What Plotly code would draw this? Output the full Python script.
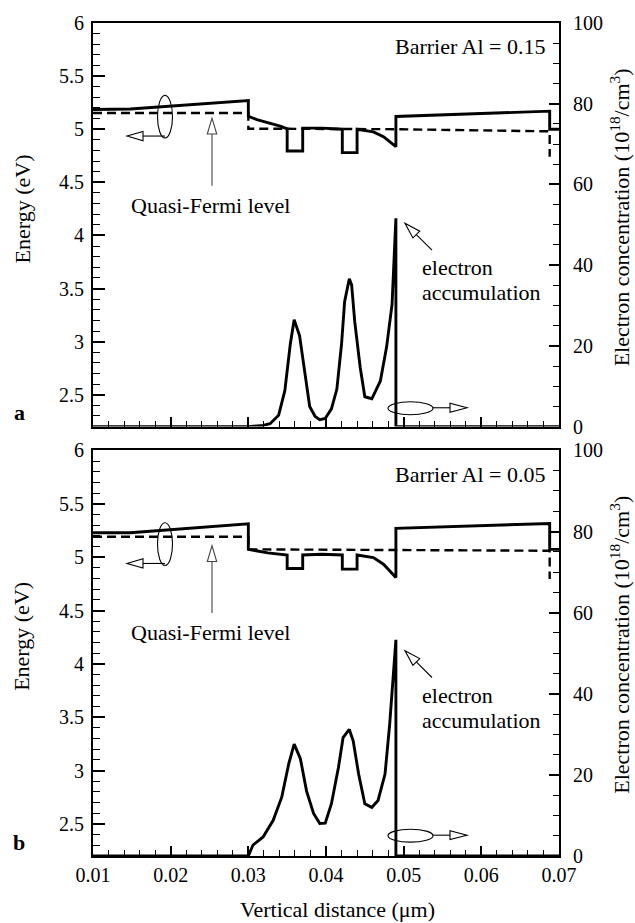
import plotly.graph_objects as go

# ---------------- data ----------------
x_ticks = [0.01, 0.02, 0.03, 0.04, 0.05, 0.06, 0.07]

# panel a (Barrier Al = 0.15)
band_a_x = [0.0100, 0.0148, 0.0300, 0.0300, 0.0311, 0.0324, 0.0341, 0.0350, 0.0350, 0.0370, 0.0370,
            0.0395, 0.0421, 0.0421, 0.0440, 0.0440, 0.0461, 0.0474, 0.0482, 0.0490, 0.0490, 0.0688,
            0.0688, 0.0700]
band_a_y = [5.185, 5.190, 5.270, 5.122, 5.090, 5.066, 5.030, 5.004, 4.795, 4.795, 5.010,
            5.010, 5.000, 4.780, 4.780, 5.000, 4.975, 4.930, 4.880, 4.836, 5.120, 5.170,
            5.000, 5.000]
fermi_a_x = [0.0100, 0.0300, 0.0300, 0.0490, 0.0688, 0.0688]
fermi_a_y = [5.153, 5.153, 5.005, 5.000, 4.980, 4.740]
conc_a_x = [0.0100, 0.0300, 0.0319, 0.0328, 0.0339, 0.0347, 0.0354, 0.0359, 0.0366, 0.0373, 0.0379,
            0.0386, 0.0392, 0.0399, 0.0407, 0.0414, 0.0420, 0.0424, 0.0430, 0.0433, 0.0437, 0.0444,
            0.0450, 0.0459, 0.0470, 0.0478, 0.0485, 0.0490, 0.0490, 0.0700]
conc_a_y = [0.0, 0.0, 0.3, 0.7, 2.8, 8.9, 20.4, 26.5, 22.5, 13.0, 5.0,
            2.5, 1.7, 2.0, 4.4, 9.3, 20.4, 31.0, 36.6, 35.1, 26.0, 14.7,
            7.4, 6.9, 11.3, 19.7, 30.2, 51.6, 0.0, 0.0]

# panel b (Barrier Al = 0.05)
band_b_x = [0.0100, 0.0148, 0.0300, 0.0300, 0.0310, 0.0325, 0.0350, 0.0350, 0.0370, 0.0370,
            0.0395, 0.0421, 0.0421, 0.0440, 0.0440, 0.0461, 0.0474, 0.0482, 0.0490, 0.0490,
            0.0688, 0.0688, 0.0700]
band_b_y = [5.229, 5.229, 5.312, 5.073, 5.060, 5.040, 5.020, 4.894, 4.894, 5.020,
            5.027, 5.020, 4.888, 4.888, 5.020, 4.996, 4.934, 4.873, 4.810, 5.270,
            5.315, 5.073, 5.073]
fermi_b_x = [0.0100, 0.0300, 0.0300, 0.0688, 0.0688]
fermi_b_y = [5.191, 5.191, 5.073, 5.060, 4.795]
conc_b_x = [0.0100, 0.0300, 0.0306, 0.0319, 0.0332, 0.0343, 0.0352, 0.0359, 0.0367, 0.0375, 0.0384,
            0.0392, 0.0399, 0.0407, 0.0416, 0.0422, 0.0430, 0.0435, 0.0442, 0.0450, 0.0459,
            0.0467, 0.0476, 0.0482, 0.0490, 0.0490, 0.0700]
conc_b_y = [0.0, 0.0, 2.7, 4.7, 8.8, 14.5, 22.7, 27.6, 24.0, 16.0, 10.5,
            8.0, 8.1, 12.9, 21.8, 29.2, 31.2, 28.4, 20.2, 12.9, 12.0,
            13.7, 20.2, 32.5, 53.3, 0.0, 0.0]

panel_labels = ["a", "b"]
barrier_labels = ["Barrier Al = 0.15", "Barrier Al = 0.05"]

# ---------------- layout geometry ----------------
W, H = 635, 923
L, R, T, B = 93, 76, 16, 67
PW, PH = W - L - R, H - T - B
FONT = "Liberation Serif, Times New Roman, serif"


def px(x):
    return (x - L) / PW


def py(y):
    return (H - B - y) / PH


top_dom = [py(423), 1.0]
bot_dom = [0.0, py(447)]
offsets = [0, 431]  # vertical pixel offset of each panel's decorations

fig = go.Figure()

solid = dict(color="black", width=2.9)
dashed = dict(color="black", width=2.4, dash="9px,5px")
conc_line = dict(color="black", width=2.9)

fig.add_trace(go.Scatter(x=band_a_x, y=band_a_y, mode="lines", line=solid, xaxis="x", yaxis="y"))
fig.add_trace(go.Scatter(x=fermi_a_x, y=fermi_a_y, mode="lines", line=dashed, xaxis="x", yaxis="y"))
fig.add_trace(go.Scatter(x=conc_a_x, y=conc_a_y, mode="lines", line=conc_line, xaxis="x", yaxis="y2"))
fig.add_trace(go.Scatter(x=band_b_x, y=band_b_y, mode="lines", line=solid, xaxis="x2", yaxis="y3"))
fig.add_trace(go.Scatter(x=fermi_b_x, y=fermi_b_y, mode="lines", line=dashed, xaxis="x2", yaxis="y3"))
fig.add_trace(go.Scatter(x=conc_b_x, y=conc_b_y, mode="lines", line=conc_line, xaxis="x2", yaxis="y4"))

tickfont = dict(family=FONT, size=20, color="black")
xcommon = dict(range=[0.01, 0.07], tickvals=x_ticks, tickformat=".2f", ticks="inside", ticklen=10,
               tickwidth=1.6, tickcolor="black", showline=True, linecolor="black", linewidth=2.2,
               mirror=True, showgrid=False, zeroline=False, tickfont=tickfont,
               minor=dict(dtick=0.002, tick0=0.01, ticks="inside", ticklen=6, tickwidth=1.3,
                          tickcolor="black", showgrid=False))
yleft = dict(range=[2.2, 6.0], dtick=0.5, tick0=0, ticks="inside", ticklen=12, tickwidth=1.6,
             tickcolor="black", showline=True, linecolor="black", linewidth=2.2, showgrid=False,
             zeroline=False, tickfont=tickfont, ticklabelstandoff=3,
             minor=dict(dtick=0.1, tick0=0, ticks="inside", ticklen=7, tickwidth=1.3,
                        tickcolor="black", showgrid=False))
yright = dict(range=[0, 100], dtick=20, tick0=0, side="right", ticks="inside", ticklen=10,
              tickwidth=1.6, tickcolor="black", showline=True, linecolor="black", linewidth=2.2,
              showgrid=False, zeroline=False, tickfont=tickfont, ticklabelstandoff=8,
              minor=dict(dtick=5, tick0=0, ticks="inside", ticklen=6, tickwidth=1.3,
                         tickcolor="black", showgrid=False))

fig.update_layout(
    width=W, height=H, margin=dict(l=L, r=R, t=T, b=B), showlegend=False,
    paper_bgcolor="white", plot_bgcolor="white",
    xaxis=dict(**xcommon, domain=[0, 1], anchor="y", showticklabels=False),
    yaxis=dict(**yleft, domain=top_dom, anchor="x"),
    yaxis2=dict(**yright, overlaying="y", anchor="x"),
    xaxis2=dict(**xcommon, domain=[0, 1], anchor="y3"),
    yaxis3=dict(**yleft, domain=bot_dom, anchor="x2"),
    yaxis4=dict(**yright, overlaying="y3", anchor="x2"),
)

annotations = []
shapes = []


def text(s, x, y, xanchor="center", size=22, angle=0, bold=False):
    if bold:
        s = "<b>" + s + "</b>"
    annotations.append(dict(text=s, x=px(x), y=py(y), xref="paper", yref="paper",
                            xanchor=xanchor, yanchor="middle", showarrow=False, textangle=angle,
                            font=dict(family=FONT, size=size, color="black")))


def arrow(x0, y0, x1, y1, head=16, half=4.8, width=1.1, color="black"):
    dx, dy = x1 - x0, y1 - y0
    n = (dx * dx + dy * dy) ** 0.5
    ux, uy = dx / n, dy / n
    bx, by = x1 - head * ux, y1 - head * uy
    nx, ny = -uy, ux
    shapes.append(dict(type="line", xref="paper", yref="paper", x0=px(x0), y0=py(y0),
                       x1=px(bx), y1=py(by), line=dict(color=color, width=width)))
    c1 = (bx + half * nx, by + half * ny)
    c2 = (bx - half * nx, by - half * ny)
    path = "M {:.5f},{:.5f} L {:.5f},{:.5f} L {:.5f},{:.5f} Z".format(
        px(x1), py(y1), px(c1[0]), py(c1[1]), px(c2[0]), py(c2[1]))
    shapes.append(dict(type="path", xref="paper", yref="paper", path=path,
                       fillcolor="white", line=dict(color=color, width=width)))


def ellipse(x0, y0, x1, y1):
    shapes.append(dict(type="circle", xref="paper", yref="paper", x0=px(x0), x1=px(x1),
                       y0=py(y1), y1=py(y0), line=dict(color="black", width=1.1)))


for i, off in enumerate(offsets):
    text(barrier_labels[i], 548, 40 + off, xanchor="right")
    text("Quasi-Fermi level", 129, 200 + off, xanchor="left")
    text("electron", 420, 263 + off, xanchor="left")
    text("accumulation", 420, 288 + off, xanchor="left")
    text(panel_labels[i], 19, 409 + off + (2 if i else 0), size=22, bold=True)
    # left ellipse + arrow pointing to energy axis
    ellipse(157.5, 89 + off, 172.5, 132 + off)
    arrow(165, 130 + off, 127, 130 + off, head=16, half=4.7)
    # Quasi-Fermi arrow
    arrow(212, 180 + off, 212, 112 + off, head=16, half=4.7, color="#444")
    # electron accumulation arrow
    arrow(432, 245 + off, 405, 218 + off, head=16, half=4.8)
    # right ellipse + arrow pointing to concentration axis
    ellipse(388, 398 + off, 433, 411 + off)
    arrow(433, 404 + off, 467, 404 + off, head=17, half=4.5)

# axis titles
text("Energy (eV)", 22, 204, angle=-90)
text("Energy (eV)", 22, 635, angle=-90)
text("Electron concentration (10<sup>18</sup>/cm<sup>3</sup>)", 620, 212, angle=-90)
text("Electron concentration (10<sup>18</sup>/cm<sup>3</sup>)", 620, 643, angle=-90)
text("Vertical distance (\u03bcm)", 337, 910)

fig.update_layout(annotations=annotations, shapes=shapes)
fig.write_html("out.html", config={"displayModeBar": False})
